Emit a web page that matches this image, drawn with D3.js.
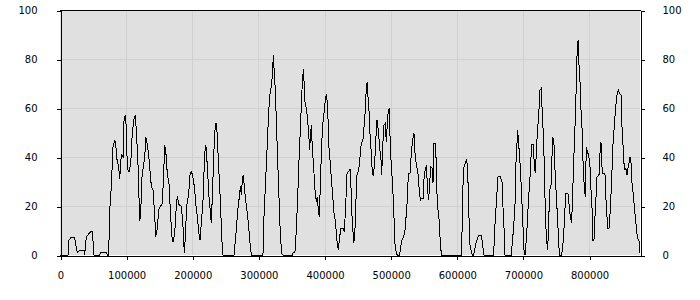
<!DOCTYPE html>
<html>
<head>
<meta charset="utf-8">
<script src="https://cdn.jsdelivr.net/npm/d3@7"></script>
<style>
  body { margin: 0; background: #fff; }
  svg { display: block; }
  .tick text { font-family: "DejaVu Sans", Verdana, sans-serif; font-size: 10px; fill: #000; }
</style>
</head>
<body>
<svg id="chart" width="700" height="300"></svg>
<script>
// x positions in thousands
var positionK = [
  0, 12.1, 13.6, 16.1, 22.2, 24.7, 26.2, 29.7, 36.3, 37.3, 39.8, 46.4, 48.9, 51.4, 60.0, 61.0, 70.1, 71.6, 73.6,
  75.1, 77.6, 80.1, 82.7, 84.2, 86.2, 88.7, 90.2, 92.7, 95.3, 96.8, 98.8, 100.3, 101.8, 104.3, 106.9, 108.9,
  111.4, 113.9, 115.4, 117.9, 118.9, 120.5, 122.0, 123.5, 126.0, 128.0, 130.0, 132.0, 134.1, 135.6, 138.1,
  140.6, 143.1, 144.7, 147.2, 149.2, 152.2, 154.2, 156.2, 158.3, 160.3, 162.3, 164.8, 167.3, 169.3, 170.9,
  173.4, 175.9, 177.4, 179.9, 183.5, 186.0, 188.0, 189.5, 191.5, 194.6, 196.6, 198.6, 200.6, 203.6, 205.1,
  207.7, 209.7, 211.7, 213.7, 216.2, 218.7, 220.3, 221.3, 223.3, 225.3, 227.3, 228.8, 230.3, 232.8, 234.9,
  236.4, 237.9, 239.4, 241.4, 242.9, 244.4, 246.5, 263.1, 265.1, 266.6, 268.6, 270.6, 272.7, 274.2, 275.7,
  277.2, 278.7, 280.7, 283.3, 285.3, 287.3, 289.3, 306.9, 308.4, 310.5, 313.0, 315.0, 317.0, 319.0, 321.0,
  322.6, 324.1, 325.6, 327.1, 329.1, 331.1, 333.1, 335.2, 337.2, 351.3, 352.3, 355.3, 357.3, 359.4, 361.4,
  363.4, 365.4, 366.9, 368.4, 369.9, 372.0, 374.0, 376.0, 377.5, 378.5, 380.0, 381.5, 383.5, 385.6, 387.6,
  389.1, 390.6, 392.1, 393.6, 395.7, 397.7, 399.7, 401.7, 403.2, 404.7, 406.7, 408.7, 410.8, 412.8, 414.8,
  416.3, 418.8, 420.8, 422.9, 424.9, 427.9, 429.9, 431.9, 434.0, 436.0, 438.0, 439.5, 440.5, 442.5, 444.0,
  445.5, 447.1, 449.1, 451.6, 453.6, 455.6, 458.1, 459.7, 461.7, 463.2, 464.7, 465.7, 467.2, 468.7, 470.7,
  472.3, 473.8, 475.8, 477.8, 479.3, 481.3, 483.3, 485.4, 486.4, 487.9, 489.9, 491.9, 493.4, 494.9, 496.4,
  498.0, 499.5, 501.5, 503.5, 505.0, 506.5, 508.5, 510.0, 513.6, 515.1, 517.1, 519.6, 521.6, 523.7, 525.2,
  526.7, 529.2, 531.2, 533.2, 535.2, 536.8, 538.8, 540.8, 542.8, 544.8, 546.3, 548.9, 550.9, 552.4, 553.9,
  555.9, 557.4, 559.0, 560.5, 562.5, 564.0, 565.5, 567.5, 569.0, 570.5, 572.6, 574.6, 576.6, 606.8, 608.3,
  609.9, 612.9, 614.9, 616.4, 617.9, 619.4, 621.4, 623.5, 625.5, 629.0, 630.5, 632.5, 637.1, 639.1, 641.1,
  655.7, 657.2, 659.7, 662.3, 665.8, 668.3, 669.8, 671.3, 672.9, 682.4, 683.9, 686.0, 688.0, 689.5, 691.0,
  692.0, 693.5, 695.0, 696.5, 698.1, 700.1, 701.6, 703.1, 704.6, 706.6, 708.6, 710.2, 712.2, 713.2, 715.7,
  717.2, 718.7, 720.2, 721.7, 723.8, 725.8, 727.8, 729.3, 731.3, 732.8, 734.3, 735.9, 737.4, 738.9, 740.4,
  742.4, 743.9, 745.4, 746.9, 748.5, 750.5, 752.5, 754.0, 755.5, 758.5, 760.6, 762.6, 764.6, 768.1, 770.1,
  771.6, 773.6, 775.7, 777.7, 779.7, 781.2, 782.7, 783.7, 784.7, 786.2, 787.8, 789.8, 791.3, 792.8, 794.3,
  795.8, 797.4, 799.4, 801.4, 802.9, 804.9, 805.9, 807.4, 808.9, 810.5, 812.0, 815.0, 816.5, 818.0, 819.5,
  821.0, 824.0, 825.6, 827.1, 828.6, 830.1, 832.1, 834.1, 836.2, 838.2, 840.2, 842.2, 844.2, 846.2, 848.3,
  849.8, 851.3, 852.8, 854.3, 855.8, 857.3, 858.8, 860.4, 861.9, 863.4, 864.9, 866.4, 868.4, 870.4, 872.4,
  874.5, 876.5, 877.0
];

var values = [
  0, 0, 6, 7, 7, 3, 1, 2, 2, 0, 7.5, 9.5, 9.5, 0, 0, 1, 1, 0, 0,
  17.7, 28, 44, 47, 45, 39, 36, 31, 41, 40, 55, 57, 52, 35, 34, 37, 48,
  55, 57, 51, 37, 28.5, 14, 15.7, 31, 36, 40, 48, 45, 41, 36, 28,
  26.5, 17, 7.5, 11, 18.4, 20, 20.5, 29, 45, 41, 33, 29, 15.7, 7.5, 5.4,
  8.8, 20, 24, 20.5, 20, 11.6, 0.7, 7.5, 20, 25, 32.6, 34, 32.6, 27, 21,
  15.7, 9.5, 6, 13, 22, 41, 45, 43, 33.3, 23.8, 17.7, 13, 23.8, 43, 53.7,
  53.7, 48.3, 38.8, 28, 19.7, 7.5, 0, 0, 6, 10, 18, 22.4, 28, 24.5, 30.6,
  32.7, 28, 22.4, 17, 11.6, 4.8, 0, 0, 15.6, 28, 43, 55, 65, 68, 72.8,
  81.6, 74, 67, 55, 38.8, 23.8, 8.8, 0.7, 0, 0, 0.7, 1.4, 10, 23.8, 38.8,
  51, 64.6, 72.8, 76, 63, 60.5, 56.5, 49.7, 43, 48, 53, 44, 36, 26.5, 21.8,
  23.8, 18.4, 15.6, 28, 45.6, 54.4, 59, 64.6, 65.3, 60, 44, 37.4, 29.3, 22.4, 15.6,
  14.3, 6, 2, 7.5, 10.9, 10.9, 9.5, 19.7, 33.3, 34, 34.7, 34.7, 21, 11.6, 5.4,
  6, 19.7, 32.7, 34.7, 40, 45.6, 47, 52.4, 59, 68.7, 70.7, 64.6, 59, 49.7, 41.5,
  33.3, 32.7, 37.4, 48.3, 55, 51, 44, 38.8, 32.7, 44, 53, 53.7, 46, 53.7, 59,
  60, 42.9, 34.7, 25, 15.6, 4.8, 0.7, 0, 0, 3.4, 6, 7.5, 10, 17, 22.4,
  33.3, 33.3, 41.5, 47, 49.7, 41.5, 36.7, 34.7, 28, 22.4, 23, 23, 33.3, 34.7, 36.7,
  26.5, 22.4, 29.3, 36, 35.4, 29.3, 45.6, 45.6, 37.4, 19.7, 17, 7.5, 0, 0, 13,
  35.4, 37.4, 39, 34.7, 21, 4.8, 2, 0, 0, 4.8, 6, 7.8, 7.8, 4.1, 0,
  0, 10, 21, 32, 32, 30, 19.7, 11.6, 0, 0, 4.8, 11.6, 21, 38, 45.6,
  51, 45.6, 40, 33.3, 23.8, 11.6, 2, 0, 4.8, 13, 23.8, 29.3, 40, 45, 45,
  36.7, 33.3, 41.5, 49.7, 57, 67.3, 68, 57, 47, 29.3, 13, 6, 2, 13, 26.5,
  28, 40, 48, 45.6, 34.7, 23.8, 14.3, 4.8, 0, 0, 4.8, 13, 25, 25, 19.7,
  15.6, 13, 29.3, 45.6, 59, 78, 86.4, 87.8, 78, 71.4, 59, 49.7, 33.3, 28, 23.8,
  44, 42, 40.8, 36, 26.5, 17, 6, 6, 15.6, 23.8, 32, 32.7, 41.5, 46, 36,
  33.3, 33.3, 22.4, 15.6, 10.9, 10.9, 18.4, 30.6, 45.6, 53, 60.5, 65.3, 67.3, 66, 65.3,
  52.4, 45, 37.4, 34.7, 35.4, 32.7, 35.4, 37.4, 39.9, 37.4, 29.3, 25.9, 19.7, 14.3, 8.8,
  6, 5.4, 1
];

var xTicks = [0, 100000, 200000, 300000, 400000, 500000, 600000, 700000, 800000];
var yTicks = [0, 20, 40, 60, 80, 100];

draw();

function draw () {
  var left = 60, right = 640, top = 10, bottom = 255;
  var svg = d3.select('#chart');

  var x = d3.scaleLinear().domain([0, 877000]).range([left, right]);
  var y = d3.scaleLinear().domain([0, 100]).range([bottom, top]);

  svg.append('rect')
    .attr('x', left).attr('y', top)
    .attr('width', right - left).attr('height', bottom - top)
    .style('fill', '#e0e0e0');

  // grid
  svg.append('g').selectAll('line')
    .data(xTicks.slice(1))
    .enter().append('line')
    .attr('x1', function(d) { return Math.round(x(d)) + 0.5; })
    .attr('x2', function(d) { return Math.round(x(d)) + 0.5; })
    .attr('y1', top).attr('y2', bottom)
    .style('stroke', '#d0d0d0');

  svg.append('g').selectAll('line')
    .data(yTicks.slice(1, -1))
    .enter().append('line')
    .attr('x1', left).attr('x2', right)
    .attr('y1', function(d) { return Math.round(y(d)) + 0.5; })
    .attr('y2', function(d) { return Math.round(y(d)) + 0.5; })
    .style('stroke', '#d0d0d0');

  var pts = positionK.map(function(k, i) { return [k * 1000, values[i]]; });

  var line = d3.line()
    .x(function(d) { return x(d[0]); })
    .y(function(d) { return y(d[1]); });

  svg.append('path')
    .datum(pts)
    .attr('d', line)
    .attr('shape-rendering', 'crispEdges')
    .style('fill', 'none')
    .style('stroke', '#000')
    .style('stroke-width', 1);

  // axes
  var xAxis = d3.axisBottom(x).tickValues(xTicks).tickSize(4).tickSizeOuter(0)
    .tickPadding(12).tickFormat(d3.format('d'));
  svg.append('g').attr('transform', 'translate(0.5,' + (bottom + 0.5) + ')').call(xAxis);

  var yLeft = d3.axisLeft(y).tickValues(yTicks).tickSize(4).tickSizeOuter(0).tickPadding(19);
  svg.append('g').attr('transform', 'translate(' + (left + 0.5) + ',0.5)').call(yLeft);

  var yRight = d3.axisRight(y).tickValues(yTicks).tickSize(4).tickSizeOuter(0).tickPadding(18);
  svg.append('g').attr('transform', 'translate(' + (right + 0.5) + ',0.5)').call(yRight);

  svg.selectAll('.domain, .tick line').style('stroke', '#000').attr('shape-rendering', 'crispEdges');

  // top border
  svg.append('line')
    .attr('x1', left).attr('x2', right + 1)
    .attr('y1', top + 0.5).attr('y2', top + 0.5)
    .style('stroke', '#000');
}
</script>
</body>
</html>
